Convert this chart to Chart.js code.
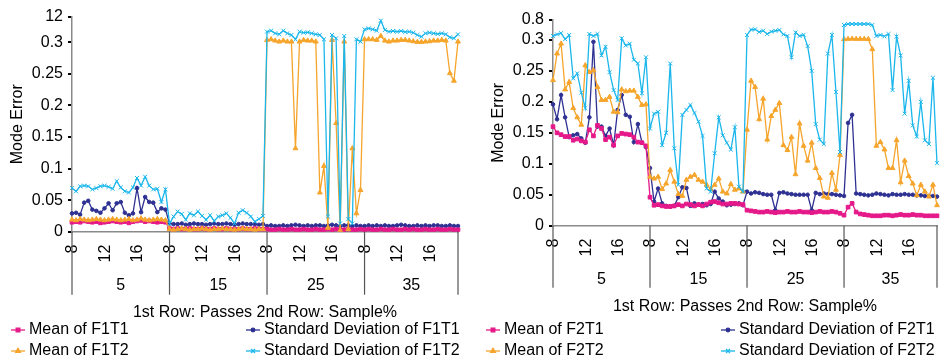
<!DOCTYPE html>
<html>
<head>
<meta charset="utf-8">
<script src="https://cdn.jsdelivr.net/npm/chart.js@4.4.1/dist/chart.umd.min.js"></script>
<style>
  body { margin: 0; background: #fff; }
  .row { display: flex; width: 946px; height: 360px; }
  canvas { display: block; }
</style>
</head>
<body>
<div class="row">
  <canvas id="f1" width="481" height="360"></canvas>
  <canvas id="f2" width="465" height="360"></canvas>
</div>
<script>
// x axis: sample% groups, each holding 24 runs over passes 8..19
const samplePct = ['5', '15', '25', '35'];
const passTicks = ['8', '12', '16'];
const pointsPerGroup = 24;

// y tick labels, the axis is split above 0.3
const f1Ticks = [0, 0.05, 0.1, 0.15, 0.2, 0.25, 0.3, 12];
const f2Ticks = [0, 0.05, 0.1, 0.15, 0.2, 0.25, 0.3, 0.8];

// F1 results
const f1t1Mean = [
  0.015,0.016,0.015,0.017,0.016,0.015,0.016,0.014,0.015,0.016,0.017,0.016,0.015,0.016,0.014,0.016,0.017,0.018,0.016,0.017,0.016,0.015,0.016,0.015,
  0.005,0.004,0.005,0.004,0.004,0.005,0.004,0.004,0.005,0.004,0.004,0.005,0.004,0.004,0.005,0.004,0.004,0.004,0.005,0.004,0.004,0.005,0.004,0.004,
  0.004,0.003,0.003,0.004,0.003,0.003,0.004,0.003,0.003,0.004,0.003,0.003,0.004,0.003,0.003,0.004,0.003,0.004,0.003,0.003,0.004,0.003,0.003,0.004,
  0.003,0.004,0.003,0.003,0.004,0.003,0.003,0.004,0.003,0.003,0.004,0.003,0.004,0.003,0.003,0.004,0.003,0.003,0.004,0.003,0.003,0.004,0.003,0.003
];
const f1t1Sd = [
  0.029,0.030,0.027,0.046,0.049,0.035,0.033,0.030,0.037,0.045,0.034,0.045,0.047,0.030,0.026,0.029,0.069,0.031,0.055,0.047,0.046,0.031,0.037,0.035,
  0.013,0.012,0.012,0.013,0.011,0.012,0.013,0.012,0.012,0.011,0.012,0.013,0.012,0.012,0.013,0.012,0.011,0.012,0.013,0.012,0.012,0.012,0.011,0.012,
  0.009,0.010,0.009,0.009,0.010,0.009,0.010,0.011,0.010,0.009,0.010,0.009,0.010,0.010,0.009,0.010,0.011,0.010,0.009,0.010,0.010,0.009,0.010,0.009,
  0.009,0.010,0.009,0.010,0.009,0.010,0.009,0.009,0.010,0.011,0.010,0.009,0.009,0.010,0.009,0.010,0.009,0.010,0.010,0.009,0.009,0.010,0.009,0.009
];
const f1t2Mean = [
  0.019,0.018,0.020,0.019,0.018,0.019,0.020,0.019,0.018,0.019,0.020,0.019,0.018,0.019,0.020,0.018,0.019,0.021,0.019,0.018,0.019,0.020,0.019,0.018,
  0.004,0.003,0.004,0.005,0.004,0.003,0.004,0.004,0.005,0.004,0.003,0.004,0.004,0.005,0.004,0.004,0.003,0.004,0.005,0.004,0.004,0.003,0.004,0.004,
  1.35,1.66,1.04,0.59,1.04,0.59,0.59,0.132,0.59,1.35,1.04,1.04,0.59,0.062,0.104,0.006,1.35,0.172,0.002,0.59,0.004,0.132,0.029,0.066,
  1.66,1.66,1.66,1.35,3.18,1.04,0.59,1.04,1.04,1.35,1.35,1.04,0.74,0.44,0.44,0.59,0.74,1.04,1.04,1.35,1.04,0.251,0.239,0.59
];
const f1t2Sd = [
  0.069,0.064,0.072,0.073,0.072,0.067,0.069,0.072,0.073,0.071,0.068,0.080,0.070,0.064,0.062,0.070,0.085,0.073,0.087,0.073,0.067,0.068,0.047,0.067,
  0.013,0.024,0.032,0.028,0.019,0.029,0.026,0.032,0.025,0.019,0.026,0.017,0.024,0.026,0.029,0.022,0.013,0.030,0.034,0.030,0.024,0.016,0.020,0.025,
  5.16,5.62,4.40,3.94,5.62,4.40,3.64,1.66,5.16,4.70,4.85,4.40,3.94,3.64,1.66,0.024,3.64,2.11,0.013,3.18,0.020,0.013,1.66,0.59,
  6.23,6.68,6.23,5.62,10.18,5.92,5.16,5.46,5.16,5.46,5.01,5.16,4.70,3.64,2.87,4.40,4.70,4.40,4.09,4.40,3.94,2.57,2.11,3.94
];

// F2 results
const f2t1Mean = [
  0.160,0.150,0.147,0.144,0.144,0.138,0.140,0.137,0.135,0.155,0.145,0.162,0.157,0.139,0.143,0.130,0.145,0.149,0.148,0.147,0.143,0.135,0.134,0.129,
  0.046,0.033,0.034,0.032,0.031,0.031,0.032,0.034,0.032,0.035,0.034,0.032,0.034,0.032,0.035,0.038,0.039,0.037,0.035,0.035,0.036,0.036,0.035,0.034,
  0.025,0.024,0.023,0.022,0.022,0.023,0.022,0.021,0.022,0.022,0.023,0.022,0.022,0.023,0.022,0.022,0.021,0.022,0.023,0.022,0.022,0.023,0.022,0.020,
  0.017,0.030,0.036,0.022,0.019,0.018,0.017,0.016,0.016,0.016,0.017,0.017,0.016,0.017,0.018,0.017,0.017,0.018,0.017,0.017,0.016,0.016,0.016,0.016
];
const f2t1Sd = [
  0.196,0.172,0.211,0.175,0.143,0.146,0.148,0.141,0.134,0.175,0.297,0.160,0.160,0.145,0.157,0.130,0.187,0.211,0.179,0.176,0.135,0.164,0.134,0.127,
  0.093,0.039,0.060,0.036,0.032,0.031,0.032,0.046,0.062,0.061,0.032,0.036,0.034,0.035,0.033,0.035,0.055,0.044,0.039,0.033,0.034,0.035,0.036,0.033,
  0.055,0.052,0.054,0.053,0.051,0.050,0.050,0.025,0.053,0.054,0.052,0.051,0.050,0.050,0.050,0.050,0.025,0.053,0.051,0.052,0.051,0.051,0.050,0.049,
  0.048,0.166,0.179,0.052,0.051,0.050,0.049,0.050,0.052,0.051,0.050,0.049,0.051,0.050,0.050,0.051,0.050,0.050,0.049,0.049,0.048,0.048,0.048,0.047
];
const f2t2Mean = [
  0.235,0.278,0.294,0.220,0.232,0.190,0.175,0.163,0.259,0.248,0.251,0.224,0.203,0.203,0.208,0.184,0.183,0.220,0.217,0.218,0.218,0.208,0.195,0.196,
  0.079,0.076,0.079,0.059,0.068,0.090,0.071,0.051,0.048,0.074,0.079,0.082,0.074,0.071,0.066,0.059,0.066,0.076,0.055,0.052,0.067,0.058,0.060,0.055,
  0.155,0.234,0.224,0.172,0.205,0.139,0.177,0.187,0.198,0.130,0.122,0.143,0.083,0.165,0.129,0.105,0.134,0.093,0.077,0.047,0.045,0.085,0.058,0.114,
  0.317,0.325,0.330,0.325,0.325,0.325,0.320,0.285,0.129,0.135,0.123,0.093,0.093,0.138,0.070,0.105,0.080,0.068,0.049,0.066,0.055,0.047,0.066,0.033
];
const f2t2Sd = [
  0.40,0.44,0.47,0.32,0.425,0.238,0.246,0.215,0.19,0.45,0.40,0.45,0.275,0.289,0.248,0.219,0.203,0.34,0.291,0.294,0.268,0.262,0.214,0.272,
  0.157,0.181,0.184,0.130,0.150,0.262,0.125,0.066,0.179,0.187,0.195,0.182,0.168,0.145,0.060,0.055,0.117,0.175,0.146,0.134,0.123,0.159,0.063,0.055,
  0.425,0.56,0.567,0.50,0.533,0.45,0.51,0.53,0.55,0.44,0.40,0.272,0.49,0.40,0.43,0.29,0.25,0.164,0.139,0.132,0.278,0.425,0.216,0.119,
  0.675,0.70,0.70,0.70,0.70,0.70,0.70,0.675,0.40,0.425,0.39,0.45,0.219,0.383,0.275,0.181,0.234,0.162,0.144,0.200,0.138,0.132,0.239,0.101
];

const FONT = '"Liberation Sans", Arial, Helvetica, sans-serif';
const PINK = '#e5198a', NAVY = '#2e3192', ORANGE = '#f6a52c', CYAN = '#1ab6ec';

// split y axis: values up to 0.3 take the lower part, the rest is squeezed on top
const yBreaks = {
  f1: { at: 0.3, pos: 0.881, top: 12 },
  f2: { at: 0.3, pos: 0.903, top: 0.8 }
};

class SplitScale extends Chart.LinearScale {
  brk() { return yBreaks[this.chart.canvas.id]; }
  getPixelForValue(v) {
    if (v === null || v === undefined) return NaN;
    const b = this.brk();
    const d = v <= b.at ? v / b.at * b.pos : b.pos + (v - b.at) / (b.top - b.at) * (1 - b.pos);
    return this.getPixelForDecimal(d);
  }
  getValueForPixel(p) {
    const b = this.brk();
    const d = this.getDecimalForPixel(p);
    return d <= b.pos ? d / b.pos * b.at : b.at + (d - b.pos) / (1 - b.pos) * (b.top - b.at);
  }
}
SplitScale.id = 'split';
SplitScale.defaults = Chart.LinearScale.defaults;
Chart.register(SplitScale);

const labels = [];
samplePct.forEach(() => {
  for (let j = 0; j < pointsPerGroup; j++) labels.push(String(8 + Math.floor(j / 2)));
});

// pass / sample% rows under the x axis, axis title and legend
const groupAxis = {
  id: 'groupAxis',
  afterDraw(chart, args, o) {
    const ctx = chart.ctx, xs = chart.scales.x, a = chart.chartArea;
    ctx.save();
    ctx.fillStyle = '#000';
    ctx.font = '16px ' + FONT;

    ctx.textAlign = 'right';
    ctx.textBaseline = 'middle';
    samplePct.forEach((s, g) => {
      passTicks.forEach((p, t) => {
        const x = xs.getPixelForValue(g * pointsPerGroup + t * 8);
        ctx.save();
        ctx.translate(x + 1, a.bottom + 13);
        ctx.rotate(-Math.PI / 2);
        ctx.fillText(p, 0, 0);
        ctx.restore();
      });
    });

    const edges = samplePct.map((s, g) => xs.getPixelForValue(g * pointsPerGroup));
    edges.push(a.right);
    ctx.strokeStyle = '#555';
    ctx.lineWidth = 1.2;
    edges.forEach(x => {
      ctx.beginPath();
      ctx.moveTo(x, a.bottom);
      ctx.lineTo(x, a.bottom + o.sepLen);
      ctx.stroke();
    });

    ctx.textAlign = 'center';
    samplePct.forEach((s, g) => {
      ctx.fillText(s, (edges[g] + edges[g + 1]) / 2, a.bottom + 53.5);
    });
    ctx.fillText('1st Row: Passes 2nd Row: Sample%', (a.left + a.right) / 2, a.bottom + 81);

    // legend, two columns
    ctx.textAlign = 'left';
    chart.data.datasets.forEach((ds, i) => {
      const x0 = o.legendX[i % 2];
      const y = [330, 351][Math.floor(i / 2)];
      ctx.strokeStyle = ds.borderColor;
      ctx.fillStyle = ds.borderColor;
      ctx.lineWidth = 1.3;
      ctx.beginPath();
      ctx.moveTo(x0, y);
      ctx.lineTo(x0 + 14, y);
      ctx.stroke();
      Chart.helpers.drawPoint(ctx, {
        pointStyle: ds.pointStyle, radius: ds.pointRadius, rotation: 0, borderWidth: 1
      }, x0 + 7, y);
      ctx.fillStyle = '#000';
      ctx.fillText(ds.label, x0 + 18, y);
    });
    ctx.restore();
  }
};

function makeChart(id, names, series, ticks, opts) {
  const styles = [
    { c: PINK, p: 'rect', r: 2.6, order: 3 },
    { c: NAVY, p: 'circle', r: 1.8, order: 4 },
    { c: ORANGE, p: 'triangle', r: 2.8, order: 2 },
    { c: CYAN, p: 'crossRot', r: 2.8, order: 1 }
  ];
  return new Chart(document.getElementById(id), {
    type: 'line',
    data: {
      labels: labels,
      datasets: series.map((d, i) => ({
        label: names[i],
        data: d,
        borderColor: styles[i].c,
        backgroundColor: styles[i].c,
        borderWidth: 1.3,
        pointStyle: styles[i].p,
        pointRadius: styles[i].r,
        pointBorderWidth: 1,
        tension: 0,
        order: styles[i].order
      }))
    },
    options: {
      responsive: false,
      animation: false,
      events: [],
      layout: { padding: { top: opts.top, right: opts.right, bottom: 0, left: 0 } },
      plugins: {
        legend: { display: false },
        tooltip: { enabled: false },
        groupAxis: { legendX: opts.legendX, sepLen: opts.sepLen }
      },
      scales: {
        x: {
          type: 'category',
          offset: false,
          ticks: { display: false },
          grid: { display: false, drawTicks: false },
          border: { color: '#8a8a8a', width: 1.5 },
          afterFit: s => { s.height = opts.xHeight; }
        },
        y: {
          type: 'split',
          min: 0,
          max: yBreaks[id].top,
          afterBuildTicks: s => { s.ticks = ticks.map(v => ({ value: v })); },
          afterFit: s => { s.width = 72; },
          ticks: {
            autoSkip: false,
            padding: 5,
            color: '#000',
            font: { family: FONT, size: 16 },
            callback: v => String(v)
          },
          grid: { drawOnChartArea: false, drawTicks: true, tickLength: 4, color: '#000', lineWidth: 2 },
          border: { color: '#8a8a8a', width: 1.5 },
          title: {
            display: true,
            text: 'Mode Error',
            color: '#000',
            font: { family: FONT, size: 16 },
            padding: { top: 8, bottom: 0 }
          }
        }
      }
    },
    plugins: [groupAxis]
  });
}

makeChart('f1',
  ['Mean of F1T1', 'Standard Deviation of F1T1', 'Mean of F1T2', 'Standard Deviation of F1T2'],
  [f1t1Mean, f1t1Sd, f1t2Mean, f1t2Sd], f1Ticks,
  { top: 16.7, right: 23, xHeight: 128.3, legendX: [11, 246], sepLen: 63 });

makeChart('f2',
  ['Mean of F2T1', 'Standard Deviation of F2T1', 'Mean of F2T2', 'Standard Deviation of F2T2'],
  [f2t1Mean, f2t1Sd, f2t2Mean, f2t2Sd], f2Ticks,
  { top: 20, right: 9, xHeight: 134.3, legendX: [5, 240], sepLen: 62 });
</script>
</body>
</html>
